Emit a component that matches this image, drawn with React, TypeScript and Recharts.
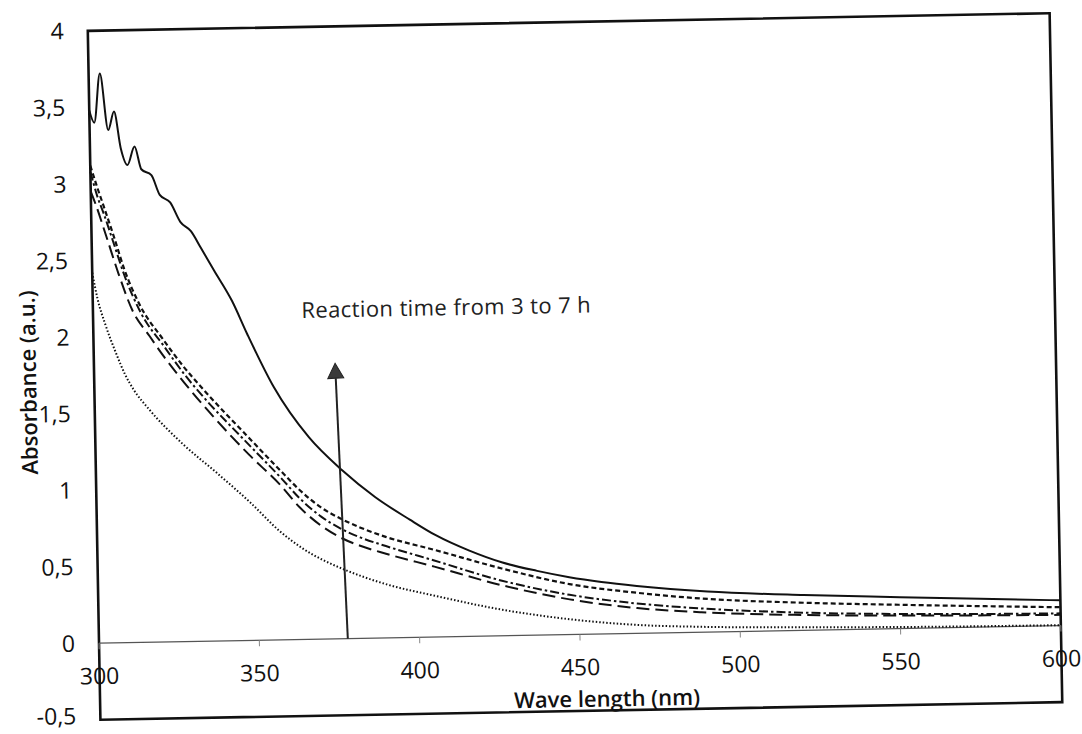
import React from 'react';
import { LineChart, Line, XAxis, YAxis, ReferenceLine, ReferenceArea, ReferenceDot, Label } from 'recharts';

// absorbance spectra, [wavelength nm, absorbance a.u.]
const spectrum3h: [number, number][] = [
  [300, 2.42], [301.5, 2.25], [303.8, 2.08], [307, 1.89], [309.7, 1.75], [312.3, 1.65],
  [317, 1.52], [327.3, 1.29], [337.6, 1.1], [348, 0.9], [357, 0.71], [364, 0.595],
  [370, 0.52], [376, 0.46], [390, 0.35], [405, 0.27], [426, 0.17], [447, 0.1],
  [468, 0.055], [488, 0.035], [520, 0.02], [550, 0.01], [600, 0.003],
];
const spectrum4h: [number, number][] = [
  [300, 2.95], [301.4, 2.87], [304.4, 2.67], [308.2, 2.41], [312.3, 2.17], [317.5, 2.0],
  [322, 1.86], [327, 1.72], [337.6, 1.45], [348, 1.21], [357.5, 1.01], [363.5, 0.86],
  [370, 0.74], [376, 0.66], [382, 0.605], [390, 0.55], [405, 0.46], [426, 0.33],
  [447, 0.23], [468, 0.165], [488, 0.13], [520, 0.1], [550, 0.085], [600, 0.07],
];
const spectrum5h: [number, number][] = [
  [300, 3.08], [302, 2.92], [304, 2.8], [307, 2.6], [310, 2.4], [315, 2.15], [322, 1.93],
  [328, 1.75], [335, 1.57], [346, 1.32], [358, 1.05], [363.5, 0.92], [370, 0.8],
  [376, 0.72], [382, 0.66], [390, 0.6], [405, 0.5], [426, 0.36], [447, 0.26],
  [468, 0.195], [488, 0.155], [520, 0.115], [550, 0.095], [600, 0.08],
];
const spectrum6h: [number, number][] = [
  [300, 3.12], [302, 2.98], [304, 2.85], [307, 2.65], [310, 2.44], [314.5, 2.21],
  [321.6, 1.98], [327.8, 1.8], [335, 1.62], [346.3, 1.36], [357.8, 1.1], [363.5, 0.975],
  [370, 0.86], [376, 0.785], [382, 0.725], [390, 0.66], [405, 0.57], [426, 0.44],
  [447, 0.33], [468, 0.265], [488, 0.22], [520, 0.18], [550, 0.155], [600, 0.12],
];
const spectrum7h: [number, number][] = [
  [300, 3.48], [301.5, 3.4], [303.5, 3.72], [305.8, 3.35], [307.7, 3.47], [309.6, 3.23],
  [311.6, 3.12], [313.9, 3.24], [315.9, 3.09], [319, 3.05], [321.5, 2.92], [324.7, 2.87],
  [327.8, 2.74], [331, 2.68], [334, 2.57], [338, 2.42], [343.4, 2.22], [348, 2.0],
  [356, 1.65], [366.6, 1.32], [376.8, 1.1], [387, 0.92], [397.6, 0.77], [405.6, 0.665],
  [416, 0.56], [426, 0.48], [437, 0.42], [447, 0.375], [457, 0.34], [468, 0.31],
  [490, 0.265], [520, 0.23], [550, 0.205], [575, 0.185], [600, 0.165],
];

const xTicks = [300, 350, 400, 450, 500, 550, 600];
const yTicks = [-0.5, 0, 0.5, 1, 1.5, 2, 2.5, 3, 3.5, 4];

const noteText = 'Reaction time from 3 to 7 h';
const notePos = { x: 365, y: 2.1 };
const arrowFrom = { x: 377.6, y: 0 };
const arrowTo = { x: 375.2, y: 1.8 };

const W = 1082;
const H = 734;
const PLOT_H = 689;
const Y_MIN = -0.5;
const Y_MAX = 4;
const ZERO_OFFSET = (PLOT_H * (0 - Y_MIN)) / (Y_MAX - Y_MIN);
const FONT = '"Open Sans", Lato, sans-serif';
const INK = '#111';

const toPoints = (pairs: [number, number][]) => pairs.map(([nm, abs]) => ({ nm, abs }));

const series = [
  { name: '3 h', data: toPoints(spectrum3h), dash: '1.5 2', width: 2 },
  { name: '4 h', data: toPoints(spectrum4h), dash: '13 6', width: 2 },
  { name: '5 h', data: toPoints(spectrum5h), dash: '9 3 2.5 3', width: 2 },
  { name: '6 h', data: toPoints(spectrum6h), dash: '5 3', width: 2.2 },
  { name: '7 h', data: toPoints(spectrum7h), dash: undefined, width: 2 },
];

const XTick = (props: any) => {
  const { x, y, payload } = props;
  const zeroY = y - ZERO_OFFSET;
  return (
    <g>
      <line x1={x} x2={x} y1={zeroY} y2={zeroY + 6} stroke="#888" strokeWidth={1} />
      <text x={x} y={zeroY + 41} textAnchor="middle" fontSize={23} fontFamily={FONT} fill={INK}>
        {payload.value}
      </text>
    </g>
  );
};

const YTick = (props: any) => {
  const { x, y, payload } = props;
  // lowest label sits right at the page edge, lift it a little
  const dy = payload.value === Y_MIN ? 4 : 8;
  return (
    <text x={x} y={y + dy} textAnchor="end" fontSize={23} fontFamily={FONT} fill={INK}>
      {String(payload.value).replace('.', ',')}
    </text>
  );
};

const Arrow = (props: any) => {
  const { x1, y1, x2, y2 } = props;
  const len = Math.hypot(x2 - x1, y2 - y1) || 1;
  const ux = (x2 - x1) / len;
  const uy = (y2 - y1) / len;
  const bx = x2 - ux * 15;
  const by = y2 - uy * 15;
  const half = 8;
  return (
    <g>
      <line x1={x1} y1={y1} x2={bx} y2={by} stroke="#222" strokeWidth={2} />
      <polygon
        points={`${x2},${y2} ${bx - uy * half},${by + ux * half} ${bx + uy * half},${by - ux * half}`}
        fill="#3a3a3a"
        stroke="#222"
        strokeWidth={1}
      />
    </g>
  );
};

const Note = (props: any) => (
  <text x={props.cx} y={props.cy} textAnchor="start" fontSize={22} letterSpacing={0.4} fontFamily={FONT} fill="#222">
    {noteText}
  </text>
);

export default function App() {
  return (
    <div style={{ position: 'fixed', left: 0, top: 0, width: W, height: H, overflow: 'hidden', background: '#fff' }}>
      <div style={{ width: W, height: H, transform: 'rotate(-1.05deg)', transformOrigin: '575px 365px' }}>
        <LineChart width={W} height={H} margin={{ top: 22, right: 26, bottom: 0, left: 10 }}>
          <XAxis
            dataKey="nm"
            type="number"
            domain={[300, 600]}
            ticks={xTicks}
            interval={0}
            height={23}
            axisLine={false}
            tickLine={false}
            tickSize={0}
            tickMargin={0}
            tick={XTick}
          >
            <Label
              content={(p: any) => (
                <text
                  x={p.viewBox.x + p.viewBox.width / 2 + 26}
                  y={p.viewBox.y - 4}
                  textAnchor="middle"
                  fontSize={22}
                  fontWeight={600}
                  fontFamily={FONT}
                  fill={INK}
                >
                  Wave length (nm)
                </text>
              )}
            />
          </XAxis>
          <YAxis
            type="number"
            domain={[Y_MIN, Y_MAX]}
            ticks={yTicks}
            interval={0}
            width={84}
            axisLine={false}
            tickLine={false}
            tickSize={0}
            tickMargin={24}
            tick={YTick}
          >
            <Label
              content={(p: any) => {
                const cx = 36;
                const cy = p.viewBox.y + p.viewBox.height / 2 + 6;
                return (
                  <text
                    x={cx}
                    y={cy}
                    transform={`rotate(-90, ${cx}, ${cy})`}
                    textAnchor="middle"
                    fontSize={22}
                    fontWeight={600}
                    fontFamily={FONT}
                    fill={INK}
                  >
                    Absorbance (a.u.)
                  </text>
                );
              }}
            />
          </YAxis>
          <ReferenceLine y={0} stroke="#555" strokeWidth={1.2} />
          {series.map((s) => (
            <Line
              key={s.name}
              name={s.name}
              data={s.data}
              dataKey="abs"
              type="monotone"
              stroke={INK}
              strokeWidth={s.width}
              strokeDasharray={s.dash}
              dot={false}
              activeDot={false}
              isAnimationActive={false}
            />
          ))}
          <ReferenceLine segment={[arrowFrom, arrowTo]} shape={Arrow} />
          <ReferenceDot x={notePos.x} y={notePos.y} r={0} shape={Note} />
          <ReferenceArea x1={300} x2={600} y1={Y_MIN} y2={Y_MAX} fill="none" fillOpacity={0} stroke="#111" strokeWidth={2.6} />
        </LineChart>
      </div>
    </div>
  );
}
